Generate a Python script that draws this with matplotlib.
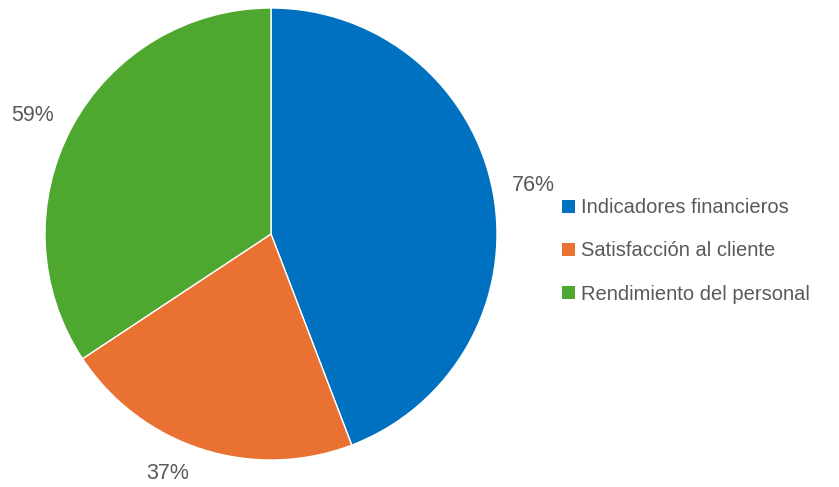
import numpy as np
import matplotlib.pyplot as plt
from matplotlib.patches import Patch

categorias = ['Indicadores financieros', 'Satisfacción al cliente', 'Rendimiento del personal']
valores = [76, 37, 59]
colores = ['#0070C0', '#E97132', '#4EA72E']

plt.rcParams['font.family'] = ['Liberation Sans', 'DejaVu Sans']

fig = plt.figure(figsize=(8.39, 4.87), dpi=100)
ax = fig.add_axes([45 / 839, 27 / 487, 452 / 839, 452 / 487])

total = sum(valores)
wedges, textos, pcts = ax.pie(
    valores, colors=colores, startangle=90, counterclock=False,
    autopct=lambda p: f'{round(p * total / 100)}%', pctdistance=1.17,
    wedgeprops=dict(edgecolor='white', linewidth=1),
    textprops=dict(color='#595959', fontsize=15.5))

# recolocar cada etiqueta: distancia al centro y pequeño giro (grados)
distancias = [1.18, 1.155, 1.18]
giros = [0, -5.5, 1.8]
for t, d, g in zip(pcts, distancias, giros):
    x, y = t.get_position()
    ang = np.arctan2(y, x) + np.radians(g)
    t.set_position((d * np.cos(ang), d * np.sin(ang)))

ax.set_xlim(-1, 1)
ax.set_ylim(-1, 1)
ax.set_aspect('equal')

handles = [Patch(facecolor=c, edgecolor='none') for c in colores]
fig.legend(handles, categorias, loc='center left', bbox_to_anchor=(544 / 839, 1 - 251 / 487),
           frameon=False, fontsize=14.5, labelcolor='#595959',
           handlelength=0.65, handleheight=0.65, handletextpad=0.3, labelspacing=1.2)

fig.savefig('out.png', dpi=100)
